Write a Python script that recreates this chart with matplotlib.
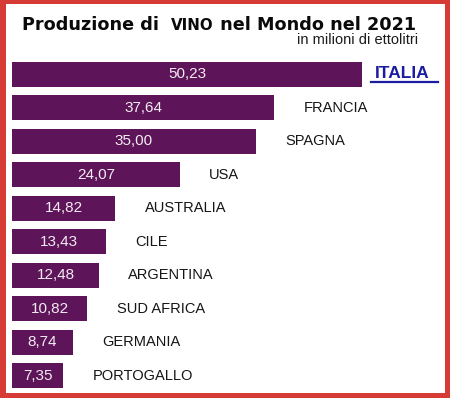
import matplotlib
matplotlib.use("Agg")
import matplotlib.pyplot as plt
from matplotlib.patches import Rectangle

countries = ["ITALIA", "FRANCIA", "SPAGNA", "USA", "AUSTRALIA", "CILE",
             "ARGENTINA", "SUD AFRICA", "GERMANIA", "PORTOGALLO"]
values = [50.23, 37.64, 35.00, 24.07, 14.82, 13.43, 12.48, 10.82, 8.74, 7.35]

BAR = "#5e1458"
RED = "#d63b35"
FONT = "Liberation Sans"

W, H = 450, 398
fig = plt.figure(figsize=(W / 100, H / 100), dpi=100, facecolor=RED)

# white panel inside the red frame
fig.patches.append(Rectangle((6 / W, 5 / H), 439 / W, 389 / H,
                             transform=fig.transFigure, facecolor="white",
                             edgecolor="none", zorder=-1))

# axes placed so that one unit = ~6.97 px and bars start at x=12 px
px_per_unit = 6.97
ax = fig.add_axes([12 / W, (H - 392.5) / H, 433 / W, 335 / H])
ax.set_zorder(2)
ax.set_xlim(0, 433 / px_per_unit)
ax.set_ylim(len(values) - 0.5, -0.5)
ax.axis("off")

pos = list(range(len(values)))
ax.barh(pos, values, height=0.75, color=BAR)

for i, (c, v) in enumerate(zip(countries, values)):
    ax.text(v / 2, i, f"{v:.2f}".replace(".", ","), ha="center", va="center",
            color="#f2ecf2", fontsize=11, family=FONT)
    if i == 0:
        italia = ax.text(v + 1.85, i - 0.03, c, ha="left", va="center",
                         color="#1c1ca0", fontsize=12.5, fontweight="bold",
                         family=FONT)
    else:
        ax.text(v + 4.2, i, c, ha="left", va="center", color="#151515",
                fontsize=10.5, family=FONT)

# title built from pieces
fig.canvas.draw()
r = fig.canvas.get_renderer()
x = 22 / W
y = (H - 30) / H
pieces = [("Produzione di  ", 12.7), ("VINO", 10.8), (" nel Mondo nel 2021", 12.7)]
for s, fs in pieces:
    tt = fig.text(x, y, s, ha="left", va="baseline", fontsize=fs,
                  fontweight="bold", family="DejaVu Sans", color="#0a0a0a")
    bb = tt.get_window_extent(r)
    x += bb.width / W

fig.text(418 / W, (H - 44) / H, "in milioni di ettolitri", ha="right",
         va="baseline", fontsize=10.5, family=FONT, color="#1a1a1a")

# underline ITALIA
bb = italia.get_window_extent(r)
fig.add_artist(plt.Line2D([(bb.x0 - 4) / W, (bb.x1 + 8) / W],
                          [(bb.y0 - 1) / H, (bb.y0 - 1) / H],
                          transform=fig.transFigure, color="#1c1ca0", lw=1.6))

fig.savefig("out.png", dpi=100, facecolor=RED)
